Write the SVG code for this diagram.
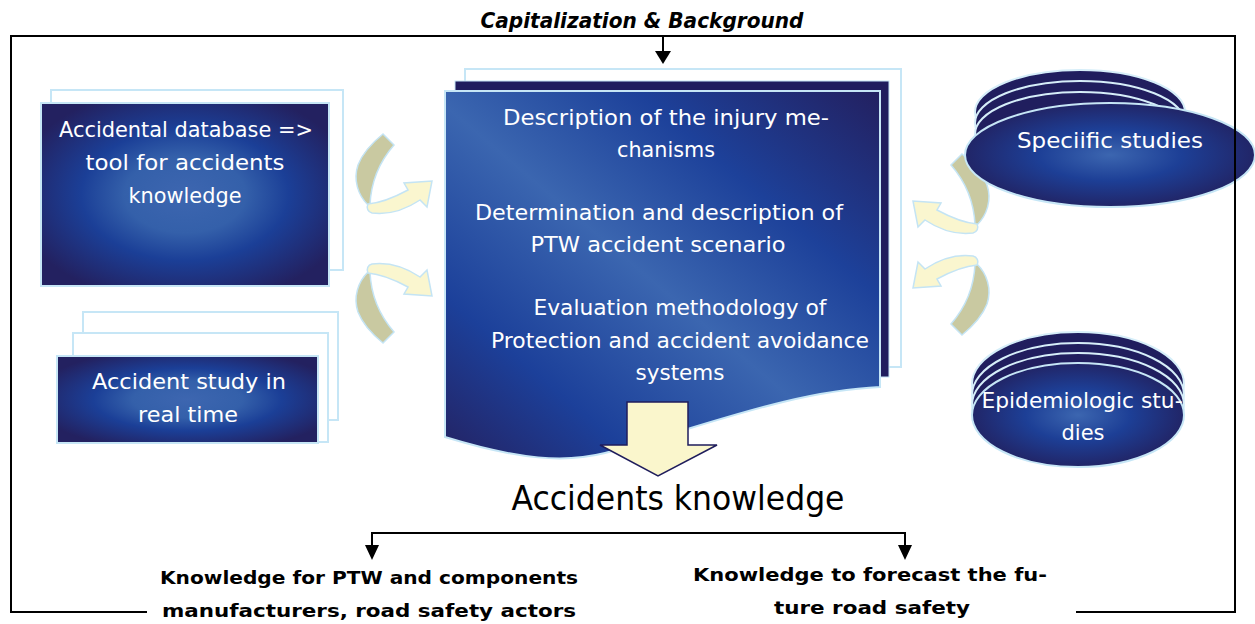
<svg xmlns="http://www.w3.org/2000/svg" width="1255" height="624" viewBox="0 0 1255 624">
  <defs>
    <style>
      .w { font-family: "DejaVu Sans", sans-serif; fill: #ffffff; text-anchor: middle; }
      .k { font-family: "DejaVu Sans", sans-serif; fill: #000000; text-anchor: middle; }
      .kb { font-family: "DejaVu Sans", sans-serif; fill: #000000; text-anchor: middle; font-weight: bold; }
      .ghost { fill: #ffffff; stroke: #c6e6f6; stroke-width: 2; }
      .edge { stroke: #c6e6f6; stroke-width: 2; }
      .stack { fill: #201e5e; stroke: #d6eef9; stroke-width: 2; }
      .line { stroke: #000000; stroke-width: 2; fill: none; }
      .khaki { fill: #c9c9a1; stroke: #c4e4f4; stroke-width: 1.5; }
      .cream { fill: #faf6cf; stroke: #c4e4f4; stroke-width: 1.5; }
    </style>
    <radialGradient id="boxFill" cx="0.5" cy="0.5" r="0.6">
      <stop offset="0" stop-color="#3d66b0"/>
      <stop offset="0.35" stop-color="#3460aa"/>
      <stop offset="0.6" stop-color="#1b3f97"/>
      <stop offset="1" stop-color="#232160"/>
    </radialGradient>
    <radialGradient id="ovalFill" cx="0.5" cy="0.5" r="0.55">
      <stop offset="0" stop-color="#3c66b0"/>
      <stop offset="0.45" stop-color="#1d3f96"/>
      <stop offset="1" stop-color="#22205e"/>
    </radialGradient>
    <linearGradient id="docFill" x1="0" y1="1" x2="1" y2="0">
      <stop offset="0" stop-color="#242262"/>
      <stop offset="0.22" stop-color="#1c409a"/>
      <stop offset="0.48" stop-color="#3b66b0"/>
      <stop offset="0.72" stop-color="#1d419a"/>
      <stop offset="1" stop-color="#232060"/>
    </linearGradient>
    <!-- bent ribbon arrow, drawn once and reflected into place -->
    <g id="bend">
      <path class="khaki" d="M383,134 L394,145 C381,160 371,180 370,205 L368,205 C358,195 353,180 358,165 C363,152 372,143 383,134 Z"/>
      <path class="cream" d="M368,204 C380,203 395,197 408,190 L404,183 L432,181 L427,207 L420,200 C405,210 388,215 372,213 C368,212 366,208 368,204 Z"/>
    </g>
  </defs>

  <rect width="1255" height="624" fill="#ffffff"/>

  <g id="connectors">
    <use href="#bend"/>
    <use href="#bend" transform="matrix(1,0,0,-1,0,477)"/>
    <use href="#bend" transform="matrix(-1,0,0,1,1345,20)"/>
    <use href="#bend" transform="matrix(-1,0,0,-1,1345,469)"/>
    <!-- input from the top -->
    <line class="line" x1="663" y1="37" x2="663" y2="52"/>
    <polygon points="655,51 671,51 663,64" fill="#000"/>
    <!-- split towards the two outputs -->
    <polyline class="line" points="372,546 372,533 905,533 905,546"/>
    <polygon points="365,545 379,545 372,560" fill="#000"/>
    <polygon points="898,545 912,545 905,560" fill="#000"/>
  </g>

  <g id="node-database">
    <rect class="ghost" x="51" y="90" width="292" height="180"/>
    <rect class="edge" x="41" y="103" width="288" height="183" fill="url(#boxFill)"/>
    <text class="w" font-size="21" x="186" y="137" textLength="254" lengthAdjust="spacingAndGlyphs">Accidental database =&gt;</text>
    <text class="w" font-size="21" x="185" y="170" textLength="199" lengthAdjust="spacingAndGlyphs">tool for accidents</text>
    <text class="w" font-size="21" x="185" y="203" textLength="113" lengthAdjust="spacingAndGlyphs">knowledge</text>
  </g>

  <g id="node-realtime">
    <rect class="ghost" x="83" y="312" width="255" height="108"/>
    <rect class="ghost" x="73" y="333" width="255" height="109"/>
    <rect class="edge" x="57" y="356" width="261" height="87" fill="url(#boxFill)"/>
    <text class="w" font-size="21" x="189" y="389" textLength="194" lengthAdjust="spacingAndGlyphs">Accident study in</text>
    <text class="w" font-size="21" x="188" y="422" textLength="100" lengthAdjust="spacingAndGlyphs">real time</text>
  </g>

  <g id="node-core">
    <rect class="ghost" x="465" y="69" width="436" height="298"/>
    <rect x="455" y="81" width="434" height="296" fill="#201d5e" stroke="#c6e6f6" stroke-width="1"/>
    <path class="edge" fill="url(#docFill)" d="M445,91 H880 V387 C790,391 700,428 605,453 C565,463 520,460 445,437 Z"/>
    <text class="w" font-size="21" x="666" y="125" textLength="326" lengthAdjust="spacingAndGlyphs">Description of the injury me-</text>
    <text class="w" font-size="21" x="666" y="157" textLength="98" lengthAdjust="spacingAndGlyphs">chanisms</text>
    <text class="w" font-size="21" x="659" y="220" textLength="368" lengthAdjust="spacingAndGlyphs">Determination and description of</text>
    <text class="w" font-size="21" x="658" y="252" textLength="255" lengthAdjust="spacingAndGlyphs">PTW accident scenario</text>
    <text class="w" font-size="21" x="680" y="315" textLength="293" lengthAdjust="spacingAndGlyphs">Evaluation methodology of</text>
    <text class="w" font-size="21" x="680" y="348" textLength="378" lengthAdjust="spacingAndGlyphs">Protection and accident avoidance</text>
    <text class="w" font-size="21" x="680" y="380" textLength="89" lengthAdjust="spacingAndGlyphs">systems</text>
    <!-- block arrow down to the result -->
    <polygon points="627,402 688,402 688,445 717,445 658,476 600,445 627,445" fill="#faf6cc" stroke="#1f1d5c" stroke-width="1.5"/>
  </g>

  <g id="node-specific">
    <ellipse class="stack" cx="1080" cy="112" rx="105" ry="42"/>
    <ellipse class="stack" cx="1080" cy="123" rx="105" ry="42"/>
    <ellipse class="stack" cx="1080" cy="134" rx="105" ry="42"/>
    <ellipse class="edge" cx="1110" cy="155" rx="145" ry="52" fill="url(#ovalFill)"/>
    <text class="w" font-size="21" x="1110" y="148" textLength="186" lengthAdjust="spacingAndGlyphs">Speciific studies</text>
  </g>

  <g id="node-epidemiologic">
    <ellipse class="stack" cx="1078" cy="384" rx="106" ry="52"/>
    <ellipse class="stack" cx="1078" cy="395" rx="106" ry="52"/>
    <ellipse class="stack" cx="1078" cy="405" rx="106" ry="52"/>
    <ellipse class="edge" cx="1078" cy="415" rx="106" ry="52" fill="url(#ovalFill)"/>
    <text class="w" font-size="21" x="1082" y="408" textLength="201" lengthAdjust="spacingAndGlyphs">Epidemiologic stu-</text>
    <text class="w" font-size="21" x="1083" y="440" textLength="43" lengthAdjust="spacingAndGlyphs">dies</text>
  </g>

  <g id="node-knowledge">
    <text class="k" font-size="34" x="678" y="510" textLength="333" lengthAdjust="spacingAndGlyphs">Accidents knowledge</text>
  </g>

  <g id="node-manufacturers">
    <text class="kb" font-size="18" x="369" y="584" textLength="418" lengthAdjust="spacingAndGlyphs">Knowledge for PTW and components</text>
    <text class="kb" font-size="18" x="369" y="617" textLength="414" lengthAdjust="spacingAndGlyphs">manufacturers, road safety actors</text>
  </g>

  <g id="node-forecast">
    <text class="kb" font-size="18" x="870" y="581" textLength="354" lengthAdjust="spacingAndGlyphs">Knowledge to forecast the fu-</text>
    <text class="kb" font-size="18" x="872" y="614" textLength="196" lengthAdjust="spacingAndGlyphs">ture road safety</text>
  </g>

  <g id="frame">
    <text class="kb" font-size="21" font-style="italic" x="642" y="28" textLength="323" lengthAdjust="spacingAndGlyphs">Capitalization &amp; Background</text>
    <polyline class="line" points="147,612 11,612 11,36 1235,36 1235,612 1076,612"/>
  </g>
</svg>
